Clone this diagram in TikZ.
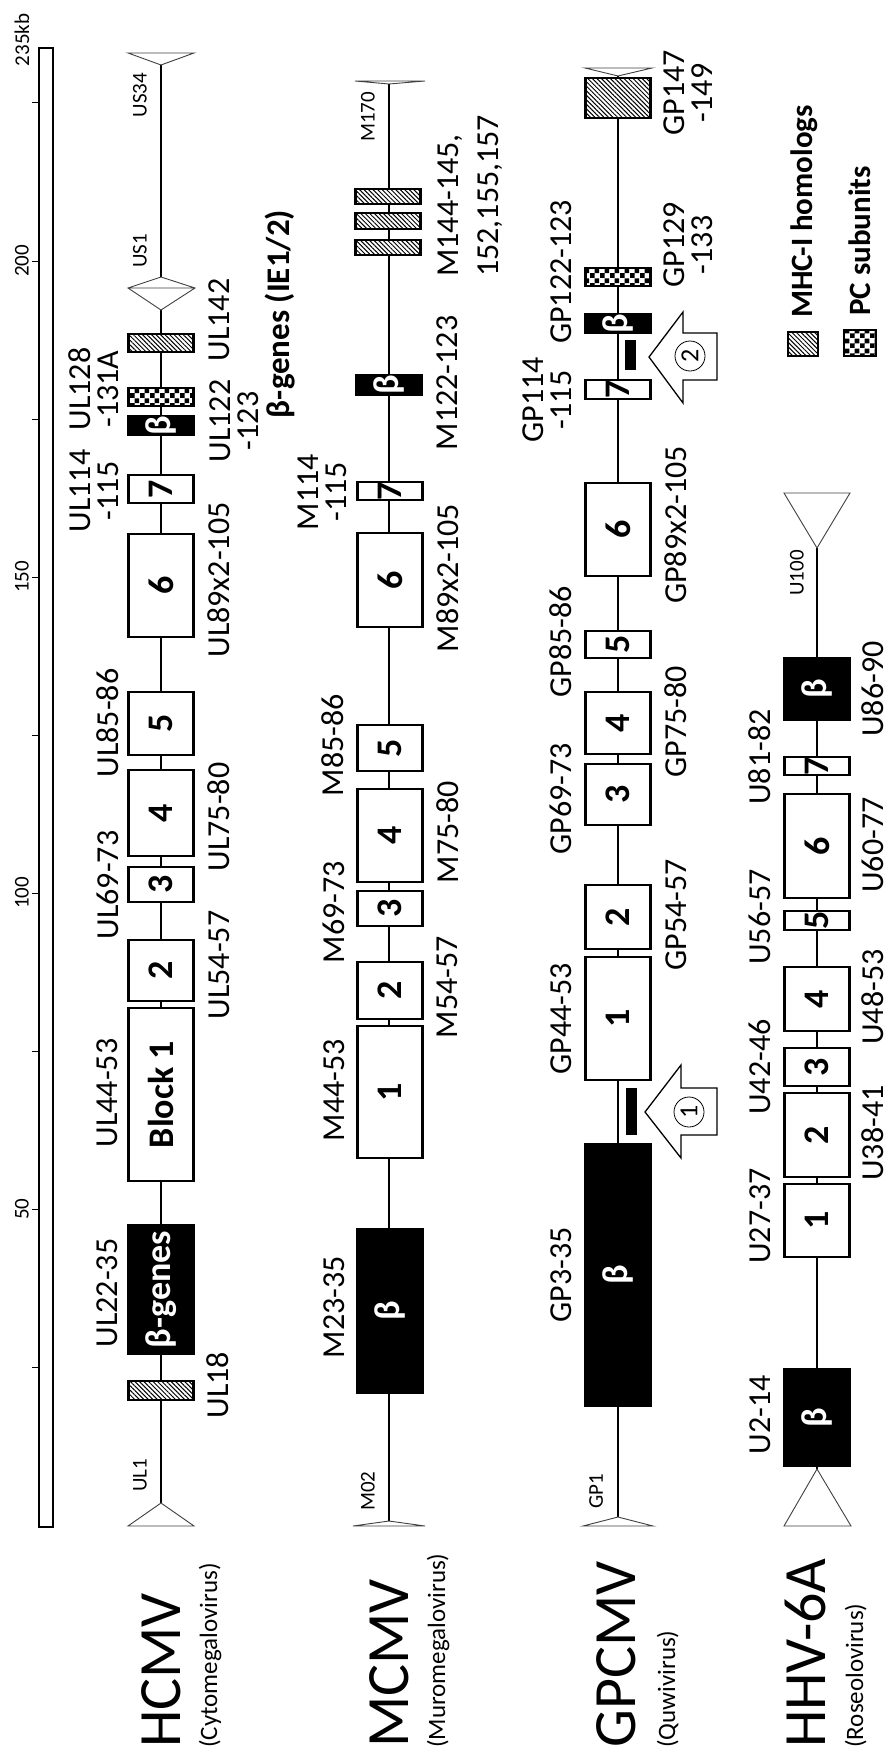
\documentclass[tikz,border=0pt]{standalone}
\usepackage{fontspec}
\setmainfont{Carlito}
\usetikzlibrary{patterns.meta}
\pgfdeclarepatternformonly{checks}{\pgfpointorigin}{\pgfqpoint{10pt}{10pt}}{\pgfqpoint{10pt}{10pt}}{%
  \pgfpathrectangle{\pgfpointorigin}{\pgfqpoint{5pt}{5pt}}%
  \pgfpathrectangle{\pgfqpoint{5pt}{5pt}}{\pgfqpoint{5pt}{5pt}}%
  \pgfusepath{fill}}

\begin{document}
\begin{tikzpicture}[x=1pt, y=-1pt,
  every node/.style={inner sep=0pt},
  spine/.style={line width=2pt},
  tipmark/.style={draw=black!75, line width=0.9pt, fill=white},
  block/.style={draw, line width=2.2pt, fill=white, rotate=90, minimum height=65pt,
    font=\bfseries\fontsize{36}{36}\selectfont},
  beta/.style={block, fill=black, text=white},
  mhc/.style={draw, line width=2.2pt, preaction={fill=white},
    pattern={Lines[angle=-45,distance=3.2pt,line width=1pt]}, minimum width=65pt},
  pcs/.style={draw, line width=2.2pt, preaction={fill=white}, pattern=checks, minimum width=65pt},
  gene/.style={rotate=90, align=center, font=\fontsize{32}{28}\selectfont},
  tag/.style={rotate=90, font=\fontsize{21}{21}\selectfont},
  virus/.style={rotate=90, anchor=base west, font=\fontsize{60}{60}\selectfont},
  genus/.style={rotate=90, anchor=base west, font=\fontsize{25}{25}\selectfont},
  hollow/.style={draw, line width=1.3pt, fill=white},
  circnum/.style={draw, circle, line width=0.8pt, minimum size=30pt, rotate=90,
    font=\fontsize{26}{26}\selectfont},
  bar/.style={fill=black, minimum width=11pt}]
  \useasboundingbox (0,0) rectangle (887,1758);

  \draw[line width=2.2pt] (39,48) rectangle (53,1527);
  \foreach \k in {25,50,...,225}
    \draw[line width=1pt] (39,{1525-6.32*\k}) -- ++(-7,0);
  \foreach \k in {50,100,150,200}
    \node[tag] (k\k) at (22,{1525-6.32*\k}) {\k};
  \node[tag] (k235) at (22,40) {235kb};

  \coordinate (hT) at (161,65);
  \coordinate (hB) at (161,1503);
  \draw[spine] (hT) -- (hB);
  \draw[tipmark] (hT) -- (128,53) -- (194,53) -- cycle;
  \draw[tipmark] (hB) -- (128,1526) -- (194,1526) -- cycle;
  \draw[tipmark] (161,277) -- (195,288) -- (161,310) -- (128,288) -- cycle (128,288) -- (195,288);
  \node[mhc, minimum height=18pt] (h142) at (161,343) {};
  \node[pcs, minimum height=18pt] (h128) at (161,397) {};
  \node[beta, minimum width=19pt] (hIE) at (161,425.5) {β};
  \node[block, minimum width=28pt] (h7) at (161,489) {7};
  \node[block, minimum width=103pt] (h6) at (161,585.5) {6};
  \node[block, minimum width=63pt] (h5) at (161,723.5) {5};
  \node[block, minimum width=86pt] (h4) at (161,813) {4};
  \node[block, minimum width=35pt] (h3) at (161,884.5) {3};
  \node[block, minimum width=61pt] (h2) at (161,970.5) {2};
  \node[block, minimum width=173pt] (h1) at (161,1094.5) {Block 1};
  \node[beta, minimum width=129pt] (hbeta) at (161,1289.5) {β-genes};
  \node[mhc, minimum height=19pt] (h18) at (161,1390.5) {};
  \node[tag] (lUS34) at (140,95) {US34};
  \node[tag] (lUS1) at (140,251) {US1};
  \node[tag] (lUL1) at (140,1475) {UL1};
  \node[gene] (l22) at (107.5,1293) {UL22-35};
  \node[gene] (l44) at (107.5,1093) {UL44-53};
  \node[gene] (l69) at (107.5,885) {UL69-73};
  \node[gene] (l85) at (107.5,723) {UL85-86};
  \node[gene] (l114) at (94,491) {UL114\\-115};
  \node[gene] (l128) at (94,389) {UL128\\-131A};
  \node[gene] (l18) at (218,1385) {UL18};
  \node[gene] (l54) at (219,965) {UL54-57};
  \node[gene] (l75) at (219,817) {UL75-80};
  \node[gene] (l89) at (219,580) {UL89x2-105};
  \node[gene] (l122) at (234,421) {UL122\\-123};
  \node[gene] (l142) at (219,320) {UL142};
  \node[gene, font=\bfseries\fontsize{33}{33}\selectfont] (lIE) at (280,314) {β-genes (IE1/2)};
  \node[virus] (nH) at (180,1748) {HCMV};
  \node[genus] (gH) at (217,1748) {(Cytomegalovirus)};

  \coordinate (mT) at (389,84);
  \coordinate (mB) at (389,1521);
  \draw[spine] (mT) -- (mB);
  \draw[tipmark] (mT) -- (355,81) -- (425,81) -- cycle;
  \draw[tipmark] (mB) -- (353,1526) -- (425,1526) -- cycle;
  \node[mhc, minimum height=15pt] (m144) at (388,196.5) {};
  \node[mhc, minimum height=16pt] (m152) at (388,221) {};
  \node[mhc, minimum height=15pt] (m155) at (388,247.5) {};
  \node[beta, minimum width=20pt] (mIE) at (389,385) {β};
  \node[block, minimum width=18pt] (m7) at (390,491) {7};
  \node[block, minimum width=94pt] (m6) at (390,580) {6};
  \node[block, minimum width=46pt] (m5) at (390,748) {5};
  \node[block, minimum width=93pt] (m4) at (390,835.5) {4};
  \node[block, minimum width=35pt] (m3) at (390,908.5) {3};
  \node[block, minimum width=57pt] (m2) at (390,990.5) {2};
  \node[block, minimum width=132pt] (m1) at (390,1092) {1};
  \node[beta, minimum width=164pt] (mbeta) at (390,1311) {β};
  \node[tag] (lM170) at (368,117) {M170};
  \node[tag] (lM02) at (368,1491) {M02};
  \node[gene] (lm23) at (334,1307) {M23-35};
  \node[gene] (lm44) at (334,1090) {M44-53};
  \node[gene] (lm69) at (334,912) {M69-73};
  \node[gene] (lm85) at (333,745) {M85-86};
  \node[gene] (lm114) at (322,492) {M114\\-115};
  \node[gene] (lm54) at (447.5,987) {M54-57};
  \node[gene] (lm75) at (447.5,832) {M75-80};
  \node[gene] (lm89) at (447.5,578) {M89x2-105};
  \node[gene] (lm122) at (447.5,383) {M122-123};
  \node[gene, align=left, anchor=west] (lm144) at (470,277) {M144-145,\\[12pt]152,155,157};
  \node[virus] (nM) at (408,1748) {MCMV};
  \node[genus] (gM) at (445,1748) {(Muromegalovirus)};

  \coordinate (gT) at (618,76);
  \coordinate (gB) at (618,1517);
  \draw[spine] (gT) -- (gB);
  \draw[tipmark] (gT) -- (585,68) -- (652,68) -- cycle;
  \draw[tipmark] (gB) -- (583,1526) -- (653,1526) -- cycle;
  \node[mhc, minimum height=40pt] (g147) at (618,98) {};
  \node[pcs, minimum height=18pt] (g129) at (618,277) {};
  \node[beta, minimum width=19pt] (gIE) at (618,323.5) {β};
  \node[block, minimum width=19pt] (g7) at (618,389.5) {7};
  \node[block, minimum width=93pt] (g6) at (618,529.5) {6};
  \node[block, minimum width=27pt] (g5) at (618,644.5) {5};
  \node[block, minimum width=62pt] (g4) at (618,723) {4};
  \node[block, minimum width=61pt] (g3) at (618,794.5) {3};
  \node[block, minimum width=64pt] (g2) at (618,917) {2};
  \node[block, minimum width=123pt] (g1) at (618,1018.5) {1};
  \node[beta, minimum width=262pt] (gbeta) at (618,1275) {β};
  \node[bar, minimum height=30pt] (bar2) at (630.5,355) {};
  \node[bar, minimum height=47pt] (bar1) at (631.5,1111.5) {};
  \draw[hollow] (649,357) -- (683,312) -- (683,333) -- (717,333) -- (717,380) -- (683,380) -- (683,403) -- cycle;
  \draw[hollow] (645,1112) -- (681,1065) -- (681,1088) -- (717,1088) -- (717,1135) -- (681,1135) -- (681,1158) -- cycle;
  \node[circnum] (c2) at (690,356) {2};
  \node[circnum] (c1) at (689,1112) {1};
  \node[tag] (lGP1) at (596,1491) {GP1};
  \node[gene] (lg3) at (561,1275) {GP3-35};
  \node[gene] (lg44) at (561,1019) {GP44-53};
  \node[gene] (lg69) at (561,799) {GP69-73};
  \node[gene] (lg85) at (561,642) {GP85-86};
  \node[gene] (lg114) at (547.5,400) {GP114\\-115};
  \node[gene] (lg122) at (561,272) {GP122-123};
  \node[gene] (lg54) at (676,915) {GP54-57};
  \node[gene] (lg75) at (676,722) {GP75-80};
  \node[gene] (lg89) at (676,525) {GP89x2-105};
  \node[gene] (lg129) at (688,245) {GP129\\-133};
  \node[gene] (lg147) at (688,93) {GP147\\-149};
  \node[virus] (nG) at (635,1748) {GPCMV};
  \node[genus] (gG) at (675,1748) {(Quwivirus)};

  \coordinate (uT) at (817,548);
  \coordinate (uB) at (817,1469);
  \draw[spine] (uT) -- (uB);
  \draw[tipmark] (uT) -- (784,493) -- (850,493) -- cycle;
  \draw[tipmark] (uB) -- (784,1526) -- (851,1526) -- cycle;
  \node[beta, minimum width=62pt] (ubeta2) at (817,689) {β};
  \node[block, minimum width=18pt] (u7) at (817,766) {7};
  \node[block, minimum width=104pt] (u6) at (817,846) {6};
  \node[block, minimum width=19pt] (u5) at (817,920.5) {5};
  \node[block, minimum width=64pt] (u4) at (817,999) {4};
  \node[block, minimum width=38pt] (u3) at (817,1067) {3};
  \node[block, minimum width=84pt] (u2) at (817,1135) {2};
  \node[block, minimum width=73pt] (u1) at (817,1220.5) {1};
  \node[beta, minimum width=97pt] (ubeta1) at (817,1417.5) {β};
  \node[tag] (lU100) at (797,573) {U100};
  \node[gene] (lu2) at (760,1415) {U2-14};
  \node[gene] (lu27) at (760,1216) {U27-37};
  \node[gene] (lu42) at (760,1067) {U42-46};
  \node[gene] (lu56) at (760,917) {U56-57};
  \node[gene] (lu81) at (760,757) {U81-82};
  \node[gene] (lu38) at (873,1133) {U38-41};
  \node[gene] (lu48) at (873,997) {U48-53};
  \node[gene] (lu60) at (873,845) {U60-77};
  \node[gene] (lu86) at (873,689) {U86-90};
  \node[virus] (nU) at (825,1748) {HHV-6A};
  \node[genus] (gU) at (863,1748) {(Roseolovirus)};

  \node[mhc, minimum width=30pt, minimum height=24pt] (keyM) at (803,344) {};
  \node[pcs, minimum width=32pt, minimum height=26pt] (keyP) at (860,343) {};
  \node[gene, anchor=west, font=\bfseries\fontsize{31}{31}\selectfont] (tM) at (804,318) {MHC-I homologs};
  \node[gene, anchor=west, font=\bfseries\fontsize{31}{31}\selectfont] (tP) at (860,316) {PC subunits};
\end{tikzpicture}
\end{document}
